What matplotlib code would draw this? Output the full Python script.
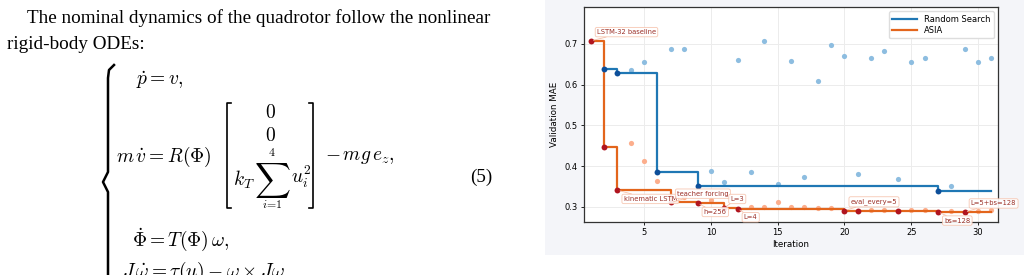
import numpy as np
import matplotlib
matplotlib.use('Agg')
import matplotlib.pyplot as plt
from matplotlib.patches import Rectangle
from matplotlib.lines import Line2D

# random search: one trial per iteration
rs_iter = list(range(2, 32))
rs_mae = [0.638, 0.628, 0.635, 0.656, 0.385, 0.686, 0.686, 0.352, 0.387, 0.360,
          0.661, 0.385, 0.707, 0.357, 0.658, 0.373, 0.608, 0.697, 0.671, 0.381,
          0.666, 0.682, 0.369, 0.655, 0.666, 0.339, 0.352, 0.688, 0.655, 0.666]

# ASIA proposals
asia_iter = list(range(1, 32))
asia_mae = [0.707, 0.447, 0.341, 0.457, 0.412, 0.363, 0.311, 0.325, 0.309, 0.318,
            0.298, 0.296, 0.300, 0.300, 0.311, 0.299, 0.300, 0.297, 0.297, 0.291,
            0.290, 0.293, 0.293, 0.289, 0.293, 0.293, 0.288, 0.290, 0.287, 0.289,
            0.292]

note_iter = [1, 3, 7, 9, 11, 12, 20, 27, 29]
note_text = ['LSTM-32 baseline', 'kinematic LSTM', 'teacher forcing', 'h=256',
             'L=3', 'L=4', 'eval_every=5', 'bs=128', 'L=5+bs=128']
note_up = [True, False, True, False, True, False, True, False, True]

W, H = 1024, 275
fig = plt.figure(figsize=(W / 100, H / 100), dpi=100)
fig.patch.set_facecolor('white')


def fx(x):
    return x / W


def fy(y):
    return 1 - y / H


# ---- left column: paper text ----
plt.rcParams['mathtext.fontset'] = 'cm'
serif = 'Liberation Serif'
fs = 13.8
ms = 14
fig.text(fx(27), fy(18), 'The nominal dynamics of the quadrotor follow the nonlinear',
         family=serif, fontsize=fs, va='center')
fig.text(fx(7), fy(45), 'rigid-body ODEs:', family=serif, fontsize=fs, va='center')
fig.text(fx(136), fy(80), r'$\dot{p} = v,$', fontsize=ms, va='center')
fig.text(fx(270), fy(112), r'$0$', fontsize=ms, va='center', ha='center')
fig.text(fx(270), fy(135), r'$0$', fontsize=ms, va='center', ha='center')
fig.text(fx(116), fy(157), r'$m\,\dot{v} = R(\Phi)$', fontsize=ms, va='center')
fig.text(fx(272), fy(152), r'$4$', fontsize=8.5, va='center', ha='center')
fig.text(fx(272), fy(180), r'$\sum$', fontsize=18, va='center', ha='center')
fig.text(fx(272), fy(205), r'$i\!=\!1$', fontsize=8.5, va='center', ha='center')
fig.text(fx(233), fy(180), r'$k_T$', fontsize=ms, va='center')
fig.text(fx(291), fy(177), r'$u_i^2$', fontsize=ms, va='center')
fig.text(fx(325), fy(157), r'$-\,mg\,e_z,$', fontsize=ms, va='center')
fig.text(fx(470), fy(177), '(5)', family=serif, fontsize=fs, va='center')
fig.text(fx(132), fy(240), r'$\dot{\Phi} = T(\Phi)\,\omega,$', fontsize=ms, va='center')
fig.text(fx(122), fy(272), r'$J\,\dot{\omega} = \tau(u) - \omega \times J\omega$',
         fontsize=ms, va='center')

# brace and matrix brackets
bx = [114, 109, 108, 108, 103, 108, 108]
by = [65, 70, 78, 172, 182, 192, 300]
fig.add_artist(Line2D([fx(v) for v in bx], [fy(v) for v in by], color='black', lw=1.8))
fig.add_artist(Line2D([fx(v) for v in [231, 227, 227, 231]], [fy(v) for v in [103, 103, 208, 208]],
                      color='black', lw=1.2))
fig.add_artist(Line2D([fx(v) for v in [309, 313, 313, 309]], [fy(v) for v in [103, 103, 208, 208]],
                      color='black', lw=1.2))

# ---- right column: figure ----
fig.add_artist(Rectangle((fx(545), fy(255)), 1 - fx(545), fy(0) - fy(255),
                         transform=fig.transFigure, facecolor='#f4f5f9',
                         edgecolor='none', zorder=-5))

ax = fig.add_axes([fx(584), fy(222), fx(998) - fx(584), fy(7) - fy(222)])
ax.set_facecolor('white')

blue = '#1f77b4'
orange = '#e3651c'

rs_best = np.minimum.accumulate(rs_mae)
asia_best = np.minimum.accumulate(asia_mae)
rs_imp = np.r_[True, np.diff(rs_best) < 0]
asia_imp = np.r_[True, np.diff(asia_best) < 0]
rs_iter = np.array(rs_iter)
asia_iter = np.array(asia_iter)
rs_mae = np.array(rs_mae)
asia_mae = np.array(asia_mae)

ax.scatter(rs_iter[~rs_imp], rs_mae[~rs_imp], s=14, color='#8dbde0', zorder=2, lw=0)
ax.scatter(asia_iter[~asia_imp], asia_mae[~asia_imp], s=14, color='#fcae8c', zorder=2, lw=0)
ax.step(rs_iter, rs_best, where='post', color=blue, lw=1.6, label='Random Search', zorder=3)
ax.step(asia_iter, asia_best, where='post', color=orange, lw=1.6, label='ASIA', zorder=3)
ax.scatter(rs_iter[rs_imp], rs_mae[rs_imp], s=18, color='#0d4f9a', zorder=4, lw=0)
ax.scatter(asia_iter[asia_imp], asia_mae[asia_imp], s=18, color='#b0151f', zorder=4, lw=0)

for it, txt, up in zip(note_iter, note_text, note_up):
    y = asia_mae[asia_iter == it][0]
    ax.annotate(txt, (it, y), xytext=(4.5, 6.3 if up else -6.3), textcoords='offset points',
                ha='left', va='center', fontsize=4.9, color='#9c3129', zorder=5,
                bbox=dict(boxstyle='round,pad=0.25', fc='white', ec='#f6c1aa', lw=0.6, alpha=0.9),
                arrowprops=dict(arrowstyle='-', color='#f6c1aa', lw=0.6, shrinkA=0, shrinkB=2))

ax.set_xlim(0.5, 31.5)
ax.set_ylim(0.263, 0.79)
ax.set_xticks([5, 10, 15, 20, 25, 30])
ax.set_yticks([0.3, 0.4, 0.5, 0.6, 0.7])
ax.grid(True, color='#ececec', lw=0.7)
ax.set_axisbelow(True)
ax.tick_params(labelsize=6, length=2.5, width=0.6, pad=2)
for s in ax.spines.values():
    s.set_color('#333333')
    s.set_linewidth(0.9)
ax.set_xlabel('Iteration', fontsize=6.3, labelpad=2)
ax.set_ylabel('Validation MAE', fontsize=6.3, labelpad=4)
ax.legend(loc='upper right', fontsize=6, frameon=True, framealpha=1, edgecolor='#dddddd',
          handlelength=3, borderpad=0.4, labelspacing=0.3, fancybox=True)

fig.savefig('out.png', dpi=100)
